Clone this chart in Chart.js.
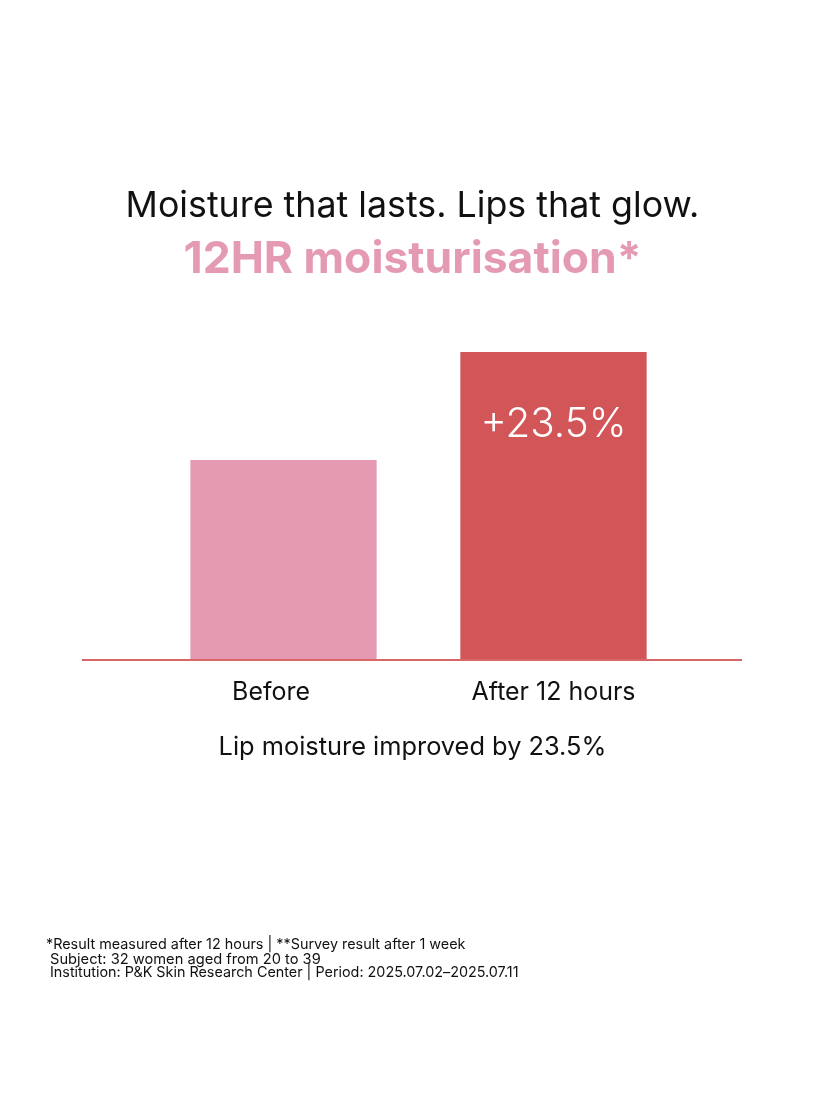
<!DOCTYPE html>
<html><head><meta charset="utf-8">
<script src="https://cdn.jsdelivr.net/npm/chart.js@4"></script>
<style>
html,body{margin:0;padding:0;background:#fff;}
#wrap{position:relative;width:825px;height:1100px;overflow:hidden;background:#fff;}
#c{position:absolute;left:0;top:0;}
.t{position:absolute;left:0;width:825px;text-align:center;white-space:nowrap;font-family:Inter,"DejaVu Sans",sans-serif;font-variant-ligatures:none;}
.f{position:absolute;white-space:nowrap;font-family:Inter,"DejaVu Sans",sans-serif;color:#111;font-variant-ligatures:none;}
</style></head><body>
<div id="wrap">
<canvas id="c" width="825" height="1100"></canvas>
<div class="t" id="title" data-w="574" data-wt="400" data-bl="218" style="color:#111;">Moisture that lasts. Lips that glow.</div>
<div class="t" id="subtitle" data-w="458" data-wt="700" data-bl="273" style="color:#e59ab3;">12HR moisturisation*</div>
<div class="t" id="caption" data-w="388" data-wt="400" data-bl="755" style="color:#111;">Lip moisture improved by 23.5%</div>
<div class="f" id="fn1" data-w="420" data-wt="400" data-bl="950" style="left:46px;">*Result measured after 12 hours | **Survey result after 1 week</div>
<div class="f" id="fn2" data-w="271" data-wt="400" data-bl="964" style="left:50px;">Subject: 32 women aged from 20 to 39</div>
<div class="f" id="fn3" data-w="469" data-wt="400" data-bl="978" style="left:50px;">Institution: P&amp;K Skin Research Center | Period: 2025.07.02–2025.07.11</div>
</div>
<script>
// ---- data ----
const categories = ['Before', 'After 12 hours'];
const moistureIndex = [100, 123.5];
const barLabels = ['', '+23.5%'];
const barColors = ['#e69ab2', '#d25557'];
const yMin = 56.5;
const yMax = 123.5;

const FONT = 'Inter';
const mctx = document.createElement('canvas').getContext('2d');
function fitSize(text, weight, target) {
  mctx.font = weight + ' 100px ' + FONT;
  return 100 * target / mctx.measureText(text).width;
}

// ---- fit HTML text to reference widths and baselines ----
document.querySelectorAll('[data-w]').forEach(el => {
  const wt = el.dataset.wt;
  const size = fitSize(el.textContent, wt, +el.dataset.w);
  mctx.font = wt + ' ' + size + 'px ' + FONT;
  const m = mctx.measureText(el.textContent);
  const A = m.fontBoundingBoxAscent, D = m.fontBoundingBoxDescent;
  const L = size;
  el.style.fontWeight = wt;
  el.style.fontSize = size.toFixed(2) + 'px';
  el.style.lineHeight = L.toFixed(2) + 'px';
  el.style.top = (+el.dataset.bl - A - (L - (A + D)) / 2).toFixed(1) + 'px';
});

const tickSize = fitSize('After 12 hours', 400, 164);
const valueSize = fitSize('+23.5%', 300, 146);

const baselinePlugin = {
  id: 'baseline',
  afterDatasetsDraw(chart) {
    const ctx = chart.ctx;
    const y = chart.scales.y.getPixelForValue(yMin);
    ctx.save();
    ctx.strokeStyle = '#d8676a';
    ctx.lineWidth = 2;
    ctx.beginPath();
    ctx.moveTo(82, y);
    ctx.lineTo(742, y);
    ctx.stroke();
    const meta = chart.getDatasetMeta(0);
    ctx.fillStyle = '#ffffff';
    ctx.font = '300 ' + valueSize + 'px ' + FONT;
    ctx.textAlign = 'center';
    ctx.textBaseline = 'alphabetic';
    meta.data.forEach((bar, i) => {
      if (barLabels[i]) ctx.fillText(barLabels[i], bar.x, bar.y + 85);
    });
    ctx.restore();
  }
};

new Chart(document.getElementById('c'), {
  type: 'bar',
  data: {
    labels: categories,
    datasets: [{
      data: moistureIndex,
      backgroundColor: barColors,
      borderWidth: 0,
      barPercentage: 1,
      categoryPercentage: 0.69
    }]
  },
  options: {
    responsive: false,
    animation: false,
    devicePixelRatio: 1,
    layout: { padding: { left: 148.5, right: 136.5, top: 352, bottom: 380 } },
    plugins: { legend: { display: false }, tooltip: { enabled: false }, title: { display: false } },
    scales: {
      y: { display: false, min: yMin, max: yMax },
      x: {
        grid: { display: false, drawTicks: false },
        border: { display: false },
        ticks: {
          color: '#111',
          font: { family: FONT, size: tickSize, weight: '400' },
          padding: 18,
          callback(v, i) { return i === 0 ? categories[i] + '\u2003' : categories[i]; }
        },
        afterFit(s) { s.height = 60; }
      }
    }
  },
  plugins: [baselinePlugin]
});
</script>
</body></html>
